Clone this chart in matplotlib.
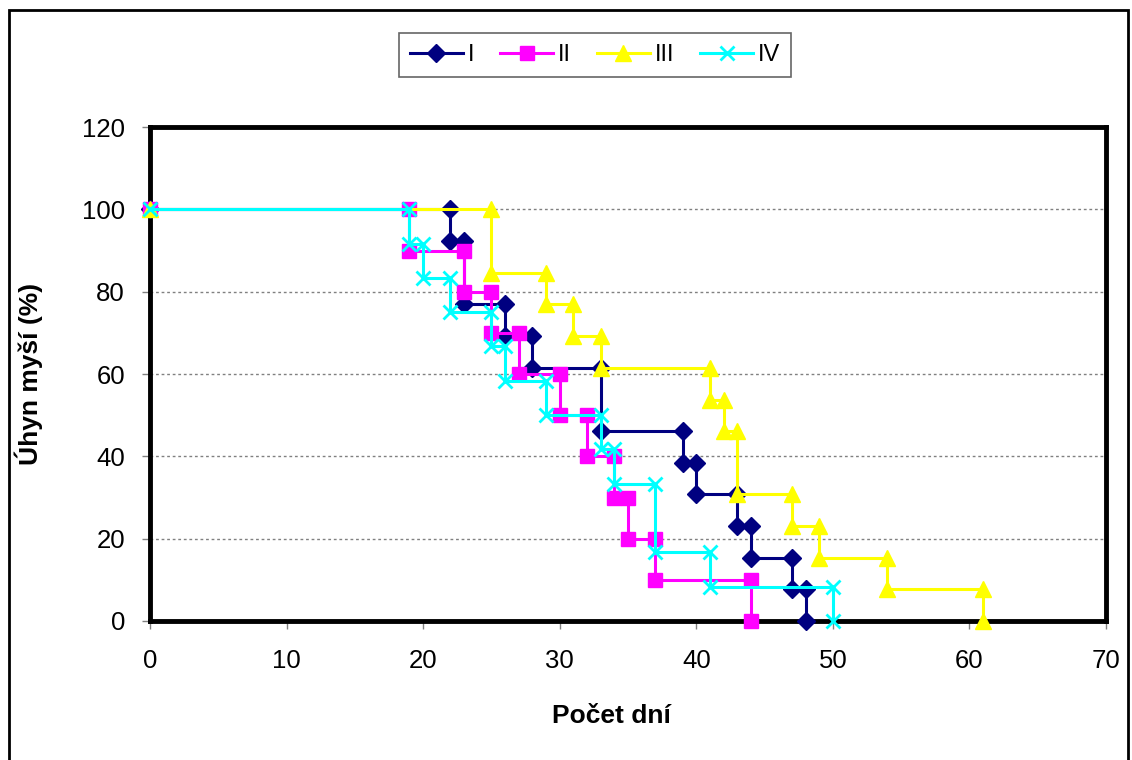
import numpy as np
import matplotlib.pyplot as plt
from matplotlib.patches import Rectangle

plt.rcParams['font.family'] = ['Liberation Sans', 'DejaVu Sans']

# survival data: day of each event and % of mice still alive after it
days_I = [0, 22, 23, 26, 28, 33, 39, 40, 43, 44, 47, 48]
surv_I = [100, 92.3, 76.9, 69.2, 61.5, 46.2, 38.5, 30.8, 23.1, 15.4, 7.7, 0]

days_II = [0, 19, 23, 25, 27, 30, 32, 34, 35, 37, 44]
surv_II = [100, 90, 80, 70, 60, 50, 40, 30, 20, 10, 0]

days_III = [0, 25, 29, 31, 33, 41, 42, 43, 47, 49, 54, 61]
surv_III = [100, 84.6, 76.9, 69.2, 61.5, 53.8, 46.2, 30.8, 23.1, 15.4, 7.7, 0]

days_IV = [0, 19, 20, 22, 25, 26, 29, 33, 34, 37, 41, 50]
surv_IV = [100, 91.7, 83.3, 75, 66.7, 58.3, 50, 41.7, 33.3, 16.7, 8.3, 0]

labels = ['I', 'II', 'III', 'IV']

# turn event lists into step-curve vertices (Excel-style, marker on every corner)
def steps(days, surv):
    x, y = [days[0]], [surv[0]]
    for i in range(1, len(days)):
        x += [days[i], days[i]]
        y += [surv[i-1], surv[i]]
    return np.array(x), np.array(y)

fig = plt.figure(figsize=(11.32, 7.6), dpi=100)
ax = fig.add_axes([150/1132, 1-621/760, 956/1132, 494/760])

styles = [
    dict(color='#000080', marker='D', markersize=9.5),
    dict(color='#FF00FF', marker='s', markersize=10.5),
    dict(color='#FFFF00', marker='^', markersize=11),
    dict(color='#00FFFF', marker='x', markersize=10, markeredgewidth=2),
]
series = [(days_I, surv_I), (days_II, surv_II), (days_III, surv_III), (days_IV, surv_IV)]

for (d, s), lab, st in zip(series, labels, styles):
    x, y = steps(d, s)
    ax.plot(x, y, lw=2.2, label=lab, clip_on=False, zorder=5, **st)

ax.set_xlim(0, 70)
ax.set_ylim(0, 120)
ax.set_xticks(np.arange(0, 71, 10))
ax.set_yticks(np.arange(0, 121, 20))
ax.tick_params(labelsize=18.5, direction='out', length=6, width=1, color='#808080', pad=14)
ax.tick_params(axis='y', pad=12)

for sp in ax.spines.values():
    sp.set_linewidth(3.5)
    sp.set_color('black')

for v in range(20, 101, 20):
    ax.axhline(v, color='#808080', lw=1, ls=(0, (2, 2)), zorder=1)

ax.set_xlabel('Počet dní', fontsize=19, fontweight='bold')
ax.set_ylabel('Úhyn myší (%)', fontsize=19, fontweight='bold')
ax.xaxis.set_label_coords(0.483, -0.168)
ax.yaxis.set_label_coords(-0.112, 0.5)

leg = fig.legend(loc='center', bbox_to_anchor=(595/1132, 1-55/760), ncol=4,
                 fontsize=17, frameon=True, fancybox=False, handlelength=2.25,
                 columnspacing=1.1, handletextpad=0.2, borderpad=0.45)
leg.get_frame().set_edgecolor('#404040')
leg.get_frame().set_linewidth(1.2)

# outer chart border
fig.patches.append(Rectangle((9/1132, -0.05), 1119/1132, 1.05-10/760,
                             transform=fig.transFigure, fill=False,
                             edgecolor='black', lw=2))

fig.savefig('out.png', dpi=100)
